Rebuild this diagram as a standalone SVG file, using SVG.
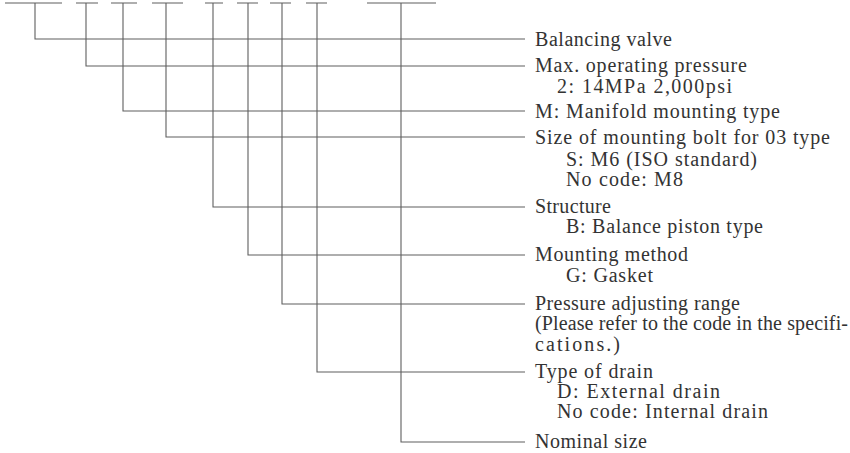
<svg xmlns="http://www.w3.org/2000/svg" width="850" height="453" viewBox="0 0 850 453">
<style>
.ln{stroke:#5f5f5f;stroke-width:1.1;fill:none}
.t{font-family:"Liberation Serif","Times New Roman",serif;font-size:20px;fill:#333}
</style>
<rect width="850" height="453" fill="#fff"/>
<g id="code-slots">
<path class="ln" d="M5 3H62M76 3H98M111 3H137M152 3H183M205 3H223M237 3H258M270 3H291M306 3H327M367 3H436"/>
</g>
<g id="connectors">
<path class="ln" d="M35 3V39H525"/>
<path class="ln" d="M86 3V66H525"/>
<path class="ln" d="M123 3V111H525"/>
<path class="ln" d="M166 3V137H525"/>
<path class="ln" d="M213 3V207H525"/>
<path class="ln" d="M248 3V255H525"/>
<path class="ln" d="M282 3V304H525"/>
<path class="ln" d="M317 3V372H525"/>
<path class="ln" d="M401 3V442H525"/>
</g>
<g id="n1"><text class="t" x="535" y="46" textLength="137" lengthAdjust="spacing">Balancing valve</text></g>
<g id="n2"><text class="t" x="535" y="72" textLength="212" lengthAdjust="spacing">Max. operating pressure</text>
<text class="t" x="557" y="93" textLength="175" lengthAdjust="spacing">2: 14MPa 2,000psi</text></g>
<g id="n3"><text class="t" x="535" y="118" textLength="245" lengthAdjust="spacing">M: Manifold mounting type</text></g>
<g id="n4"><text class="t" x="535" y="144" textLength="295" lengthAdjust="spacing">Size of mounting bolt for 03 type</text>
<text class="t" x="566" y="166" textLength="191" lengthAdjust="spacing">S: M6 (ISO standard)</text>
<text class="t" x="566" y="186" textLength="117" lengthAdjust="spacing">No code: M8</text></g>
<g id="n5"><text class="t" x="535" y="213" textLength="76" lengthAdjust="spacing">Structure</text>
<text class="t" x="566" y="233" textLength="197" lengthAdjust="spacing">B: Balance piston type</text></g>
<g id="n6"><text class="t" x="535" y="261" textLength="153" lengthAdjust="spacing">Mounting method</text>
<text class="t" x="566" y="282" textLength="87" lengthAdjust="spacing">G: Gasket</text></g>
<g id="n7"><text class="t" x="535" y="309.5" textLength="205" lengthAdjust="spacing">Pressure adjusting range</text>
<text class="t" x="535" y="330" textLength="313" lengthAdjust="spacing">(Please refer to the code in the specifi-</text>
<text class="t" x="535" y="350.5" textLength="85" lengthAdjust="spacing">cations.)</text></g>
<g id="n8"><text class="t" x="535" y="378" textLength="118" lengthAdjust="spacing">Type of drain</text>
<text class="t" x="557" y="398" textLength="163" lengthAdjust="spacing">D: External drain</text>
<text class="t" x="557" y="418" textLength="211" lengthAdjust="spacing">No code: Internal drain</text></g>
<g id="n9"><text class="t" x="535" y="448" textLength="112" lengthAdjust="spacing">Nominal size</text></g>
</svg>
